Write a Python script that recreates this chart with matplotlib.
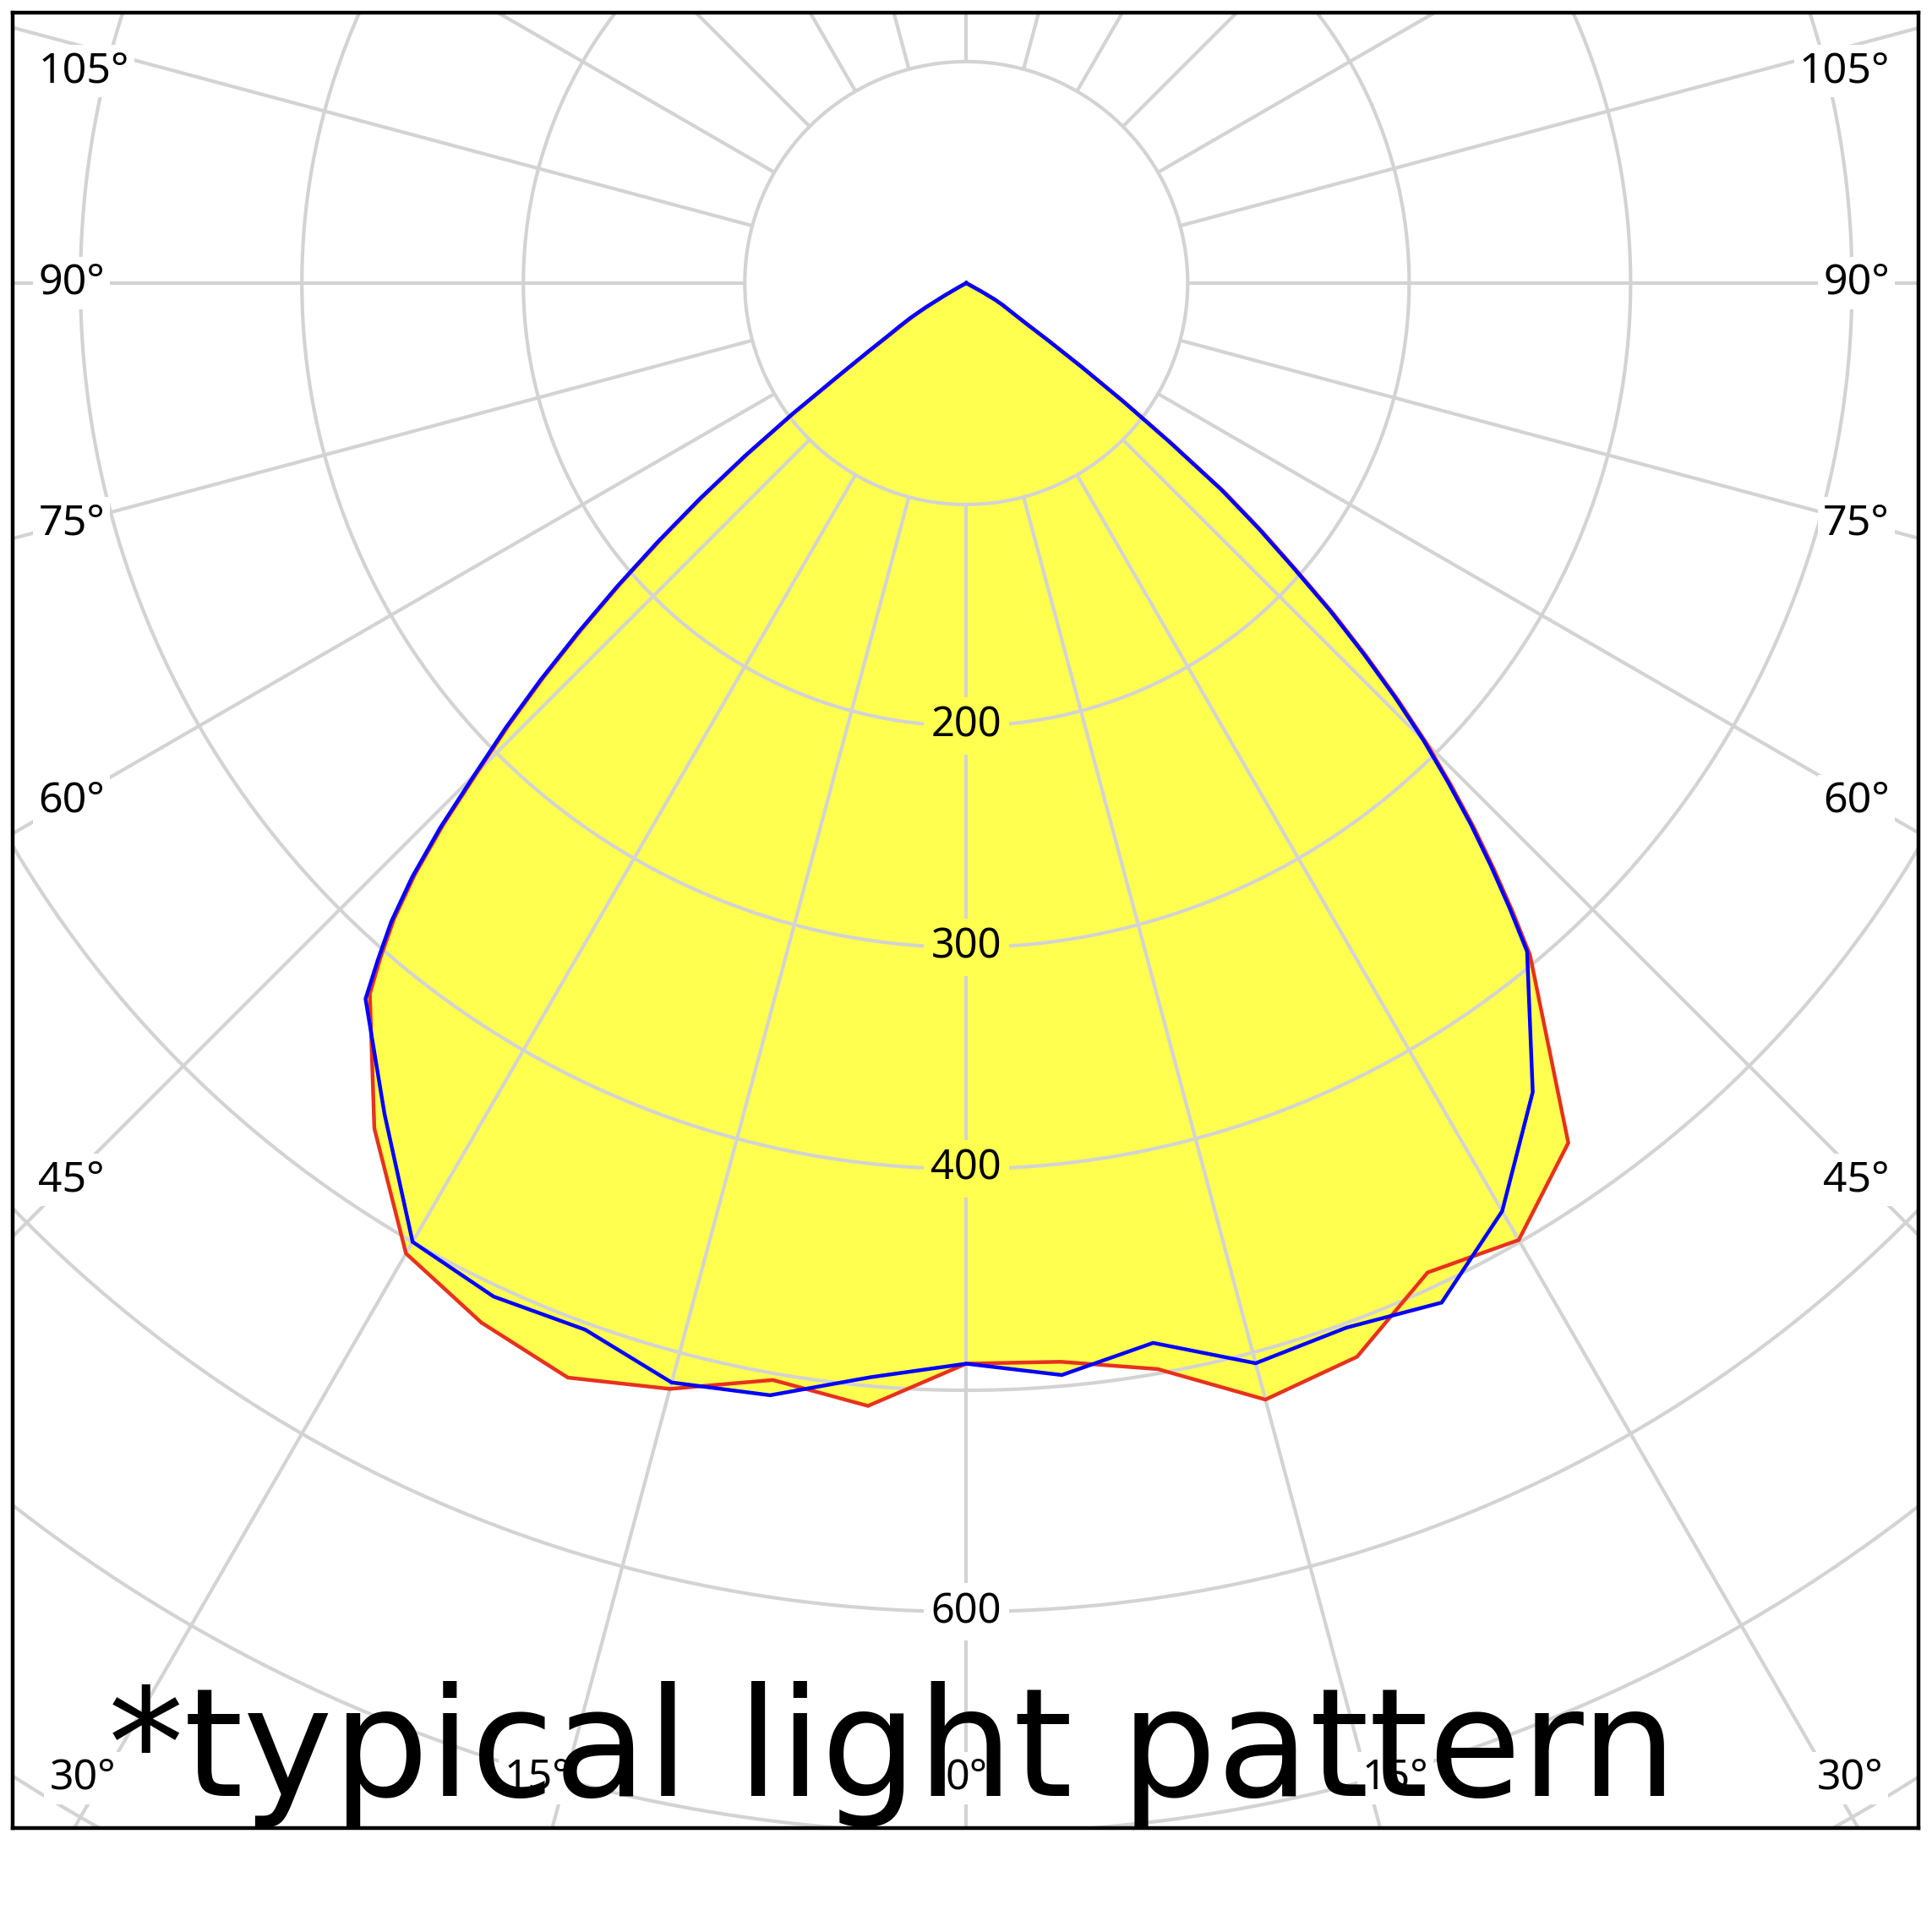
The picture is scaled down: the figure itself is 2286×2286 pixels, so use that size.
import numpy as np
import matplotlib
matplotlib.use("Agg")
import matplotlib.pyplot as plt

# ---- data (candela vs. angle from nadir; negative = left half) ----
angles = [-62, -61, -60, -59, -58, -57, -56, -55, -54, -53, -52, -51, -50, -49, -48, -47,
          -46, -45, -44, -43, -42, -41, -40, -35, -30, -25, -20, -15, -10, -5,
          0, 5, 10, 15, 20, 25, 30, 35, 40, 41, 42, 43, 44, 45, 46, 47, 48, 49, 50,
          51, 52, 53, 54, 55, 56, 57, 58, 59, 60, 61, 62]
red_cd = [0, 4, 11, 20, 28, 34, 41, 53, 70, 97, 125, 153, 180, 207, 234, 261,
          287, 312, 340, 365, 386, 403, 419, 466, 506, 518, 526, 517, 503, 509,
          488, 489, 498, 522, 516, 493, 499, 474, 396, 376, 356, 336, 315, 294, 271, 247, 223, 197, 174,
          150, 118, 90, 65, 46, 33, 26, 22, 19, 15, 8, 0]
blue_cd = [0, 4, 12, 22, 30, 36, 43, 55, 72, 99, 127, 155, 182, 209, 236, 263,
           289, 314, 342, 367, 388, 405, 422, 458, 500, 505, 503, 514, 510, 496,
           488, 495, 486, 505, 502, 508, 484, 446, 394, 374, 354, 334, 313, 292, 269, 245, 221, 195, 172,
           148, 116, 88, 64, 45, 32, 26, 22, 19, 15, 8, 0]
ring_values = [100, 200, 300, 400, 500, 600, 700, 800, 900]
ring_labels = [200, 300, 400, 600]
angle_ticks = [0, 15, 30, 45, 60, 75, 90, 105]
spoke_angles = list(range(0, 360, 15))
title_text = "*typical light pattern"

YELLOW = "#FFFF50"
GRID = "#D3D3D3"
RED = "#E6321E"
BLUE = "#0000FF"
LABEL_FONT = ["Noto Sans", "DejaVu Sans"]

W = 2286
fig = plt.figure(figsize=(W / 100, W / 100), dpi=100)
ax = fig.add_axes([15 / W, 1 - 2163 / W, 2255 / W, 2148 / W])
ax.set_xlim(-430.6, 430.0)
ax.set_ylim(-697.7, 122.1)
ax.set_xticks([])
ax.set_yticks([])
for s in ax.spines.values():
    s.set_linewidth(3.2)
    s.set_color("black")
    s.set_zorder(20)


def to_xy(ang, r):
    th = np.radians(np.asarray(ang, dtype=float))
    r = np.asarray(r, dtype=float)
    return r * np.sin(th), -r * np.cos(th)


xr, yr = to_xy(angles, red_cd)
xb, yb = to_xy(angles, blue_cd)

# yellow fill (union of both curves)
ax.fill(xr, yr, color=YELLOW, lw=0, zorder=1)
ax.fill(xb, yb, color=YELLOW, lw=0, zorder=1)

# grid: rings and spokes
t = np.linspace(0, 2 * np.pi, 1441)
for rv in ring_values:
    ax.plot(rv * np.cos(t), rv * np.sin(t), color=GRID, lw=3.0, zorder=2,
            solid_capstyle="butt")
for a in spoke_angles:
    sx, sy = to_xy([a, a], [ring_values[0], 1000])
    ax.plot(sx, sy, color=GRID, lw=3.0, zorder=2, solid_capstyle="butt")

# curves
ax.plot(xr, yr, color=RED, lw=3.2, zorder=3, solid_joinstyle="miter")
ax.plot(xb, yb, color=BLUE, lw=3.2, zorder=4, solid_joinstyle="miter")

# ring labels along the 0 degree spoke
zero_min = min(red_cd[angles.index(0)], blue_cd[angles.index(0)])
for rv in ring_labels:
    bg = YELLOW if rv < zero_min else "white"
    ax.text(0, -rv, str(rv), ha="center", va="center", fontsize=35,
            family=LABEL_FONT, zorder=6,
            bbox=dict(boxstyle="square,pad=0.18", fc=bg, ec="none"))

# angle labels
for a in angle_ticks:
    sides = [0] if a == 0 else [-1, 1]
    for side in sides:
        ar = np.radians(a)
        if a >= 45:
            y = -405 / np.sin(ar) * np.cos(ar)
            y = min(max(y, -675), 95.6)
            x = -419 if side < 0 else 417
            ha = "left" if side < 0 else "right"
        else:
            y = -675
            x = side * min(723 * np.tan(ar), 399)
            ha = "center"
        ax.text(x, y, f"{a}°", ha=ha, va="center", fontsize=36,
                family=LABEL_FONT, zorder=6,
                bbox=dict(boxstyle="square,pad=0.12", fc="white", ec="none"))

# big caption
ax.text(128 / W, 1 - 2125 / W, title_text, transform=fig.transFigure,
        ha="left", va="baseline", fontsize=129, family=["DejaVu Sans"],
        color="black", zorder=15, clip_on=False)

fig.savefig("out.png", dpi=100, facecolor="white")
